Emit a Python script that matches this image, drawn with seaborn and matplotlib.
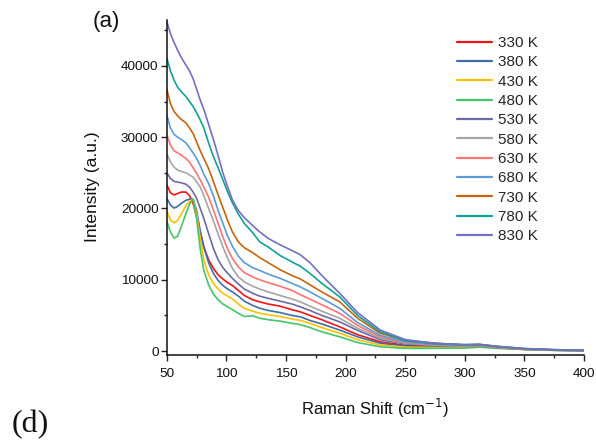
import numpy as np
import pandas as pd
import matplotlib
matplotlib.use("Agg")
import matplotlib.pyplot as plt
import seaborn as sns
from matplotlib.ticker import MultipleLocator

shift = [50, 53, 56, 59, 62, 66, 69, 72, 75, 78, 81, 85, 89, 93, 97, 101, 105, 110, 115, 122,
         128, 135, 145, 155, 162, 170, 180, 195, 210, 229, 250, 275, 300, 312, 325, 350, 375, 400]

labels = ["330 K", "380 K", "430 K", "480 K", "530 K", "580 K",
          "630 K", "680 K", "730 K", "780 K", "830 K"]

i330 = [23300, 22200, 21900, 22100, 22300, 22300, 21800, 20700, 18800, 16700, 14600, 12800, 11600, 10700, 10100, 9600, 9200, 8500, 7800, 7200,
        6900, 6600, 6300, 5800, 5500, 5000, 4400, 3400, 2300, 1300, 800, 650, 620, 720, 500, 250, 130, 60]
i380 = [21400, 20500, 20050, 20300, 20700, 21150, 21300, 21300, 19700, 16800, 14600, 12400, 10900, 9900, 9200, 8700, 8300, 7700, 7000, 6400,
        6000, 5700, 5400, 5000, 4800, 4300, 3800, 2950, 2000, 1100, 700, 580, 580, 700, 480, 240, 120, 60]
i430 = [19600, 18400, 18000, 18300, 19200, 20400, 21000, 21300, 19200, 15800, 12800, 10700, 9500, 8700, 8100, 7700, 7300, 6600, 6000, 5600,
        5300, 5100, 4850, 4500, 4300, 3900, 3300, 2500, 1600, 850, 550, 500, 530, 650, 450, 230, 110, 50]
i480 = [18150, 16700, 15850, 16100, 17400, 19300, 20600, 21300, 18500, 14300, 11300, 9300, 8000, 7200, 6600, 6200, 5800, 5300, 4850, 4950,
        4600, 4400, 4200, 3900, 3700, 3300, 2700, 2000, 1200, 600, 380, 380, 420, 550, 400, 220, 100, 40]
i530 = [25000, 24200, 23800, 23700, 23600, 23400, 23000, 22300, 21400, 20000, 18600, 16500, 14400, 12800, 11700, 10900, 10200, 9400, 8700, 8100,
        7700, 7400, 7000, 6600, 6200, 5700, 5000, 4100, 2900, 1600, 1000, 800, 680, 760, 530, 260, 140, 70]
i580 = [27700, 26500, 25800, 25400, 25200, 25000, 24700, 24400, 23700, 23000, 21800, 20000, 18300, 16400, 14600, 13000, 11600, 10400, 9700, 9100,
        8700, 8300, 7800, 7300, 6900, 6300, 5600, 4600, 3200, 1800, 1100, 850, 700, 780, 550, 270, 150, 80]
i630 = [30300, 28900, 28100, 27800, 27500, 27000, 26500, 25700, 24900, 24000, 23000, 21600, 19800, 17900, 16000, 14300, 13000, 11800, 11000, 10400,
        10000, 9600, 9100, 8500, 7900, 7300, 6500, 5300, 3600, 2000, 1200, 900, 750, 800, 570, 280, 160, 80]
i680 = [33100, 31300, 30400, 30000, 29700, 29200, 28500, 27800, 27000, 26000, 24800, 23500, 21800, 19700, 17900, 16100, 14700, 13300, 12400, 11700,
        11300, 10800, 10200, 9500, 9000, 8300, 7400, 6000, 4000, 2200, 1300, 950, 800, 850, 600, 300, 170, 90]
i730 = [36700, 34700, 33600, 33000, 32500, 32000, 31300, 30500, 29300, 28100, 27000, 25600, 23800, 21900, 20100, 18300, 16700, 15300, 14500, 13800,
        13100, 12400, 11400, 10600, 10100, 9300, 8300, 6900, 4600, 2500, 1500, 1100, 850, 900, 650, 330, 180, 100]
i780 = [41100, 39300, 38000, 37000, 36400, 35700, 35000, 34300, 33400, 32400, 31300, 29200, 27300, 25700, 24000, 22300, 20800, 19200, 17900, 16600,
        15300, 14600, 13400, 12500, 11900, 10900, 9500, 7600, 5000, 2700, 1450, 1050, 900, 950, 700, 350, 200, 100]
i830 = [46200, 44500, 43300, 42200, 41200, 40100, 39300, 38200, 36700, 35200, 33900, 31800, 29700, 27400, 25000, 23000, 21200, 19700, 18700, 17600,
        16700, 15800, 14900, 14100, 13500, 12400, 10600, 8100, 5400, 2950, 1600, 1100, 900, 950, 700, 350, 200, 100]

series = [i330, i380, i430, i480, i530, i580, i630, i680, i730, i780, i830]
colors = ["#F01414", "#3F6EA6", "#FFC000", "#45C46C", "#6A6AA6", "#A5A5A5",
          "#FF7373", "#5B9BD5", "#C8640F", "#12A096", "#7070C4"]

frames = []
for lab, vals in zip(labels, series):
    frames.append(pd.DataFrame({"shift": shift, "intensity": vals, "T": lab}))
df = pd.concat(frames, ignore_index=True)

sns.set_theme(style="white")
plt.rcParams["font.family"] = ["Liberation Sans", "DejaVu Sans"]

fig = plt.figure(figsize=(5.96, 4.40), dpi=100)
ax = fig.add_axes([0.280, 0.193, 0.700, 0.762])

sns.lineplot(data=df, x="shift", y="intensity", hue="T", hue_order=labels,
             palette=colors, linewidth=1.2, ax=ax, sort=False, legend=True)
for ln in ax.get_lines():
    ln.set_solid_joinstyle("round")

ax.set_xlim(50, 400)
ax.set_ylim(-560, 46460)
ax.xaxis.set_major_locator(MultipleLocator(50))
ax.xaxis.set_minor_locator(MultipleLocator(25))
ax.yaxis.set_major_locator(MultipleLocator(10000))
ax.yaxis.set_minor_locator(MultipleLocator(5000))
ax.set_yticks([0, 10000, 20000, 30000, 40000])
ax.tick_params(axis="both", which="major", direction="out", length=4.5, width=1,
               labelsize=9.7, color="#222222", labelcolor="#111111",
               bottom=True, left=True)
ax.tick_params(axis="y", which="major", pad=1.5)
ax.tick_params(axis="x", which="major", pad=4.5)
ax.tick_params(axis="both", which="minor", direction="out", length=2.5, width=1,
               color="#222222", bottom=True, left=True)
for s in ["top", "right"]:
    ax.spines[s].set_visible(False)
for s in ["left", "bottom"]:
    ax.spines[s].set_color("#111111")
    ax.spines[s].set_linewidth(1.1)

ax.set_xlabel("Raman Shift (cm$^{-1}$)", fontsize=12, color="#111111")
ax.set_ylabel("Intensity (a.u.)", fontsize=12.5, color="#111111")
ax.xaxis.set_label_coords(0.498, -0.125)
ax.yaxis.set_label_coords(-0.160, 0.503)

leg = ax.legend(loc="upper left", bbox_to_anchor=(0.696, 0.952), frameon=False,
                fontsize=11, handlelength=2.3, handletextpad=0.35,
                labelspacing=0.35, borderpad=0, borderaxespad=0)
for line in leg.get_lines():
    line.set_linewidth(1.6)

fig.text(0.178, 0.950, "(a)", fontsize=16, ha="center", va="center", color="#111111")
fig.text(0.020, 0.036, "(d)", fontsize=23, ha="left", va="center",
         family=["Liberation Serif", "DejaVu Serif"], color="#111111")

fig.savefig("out.png", dpi=100)
